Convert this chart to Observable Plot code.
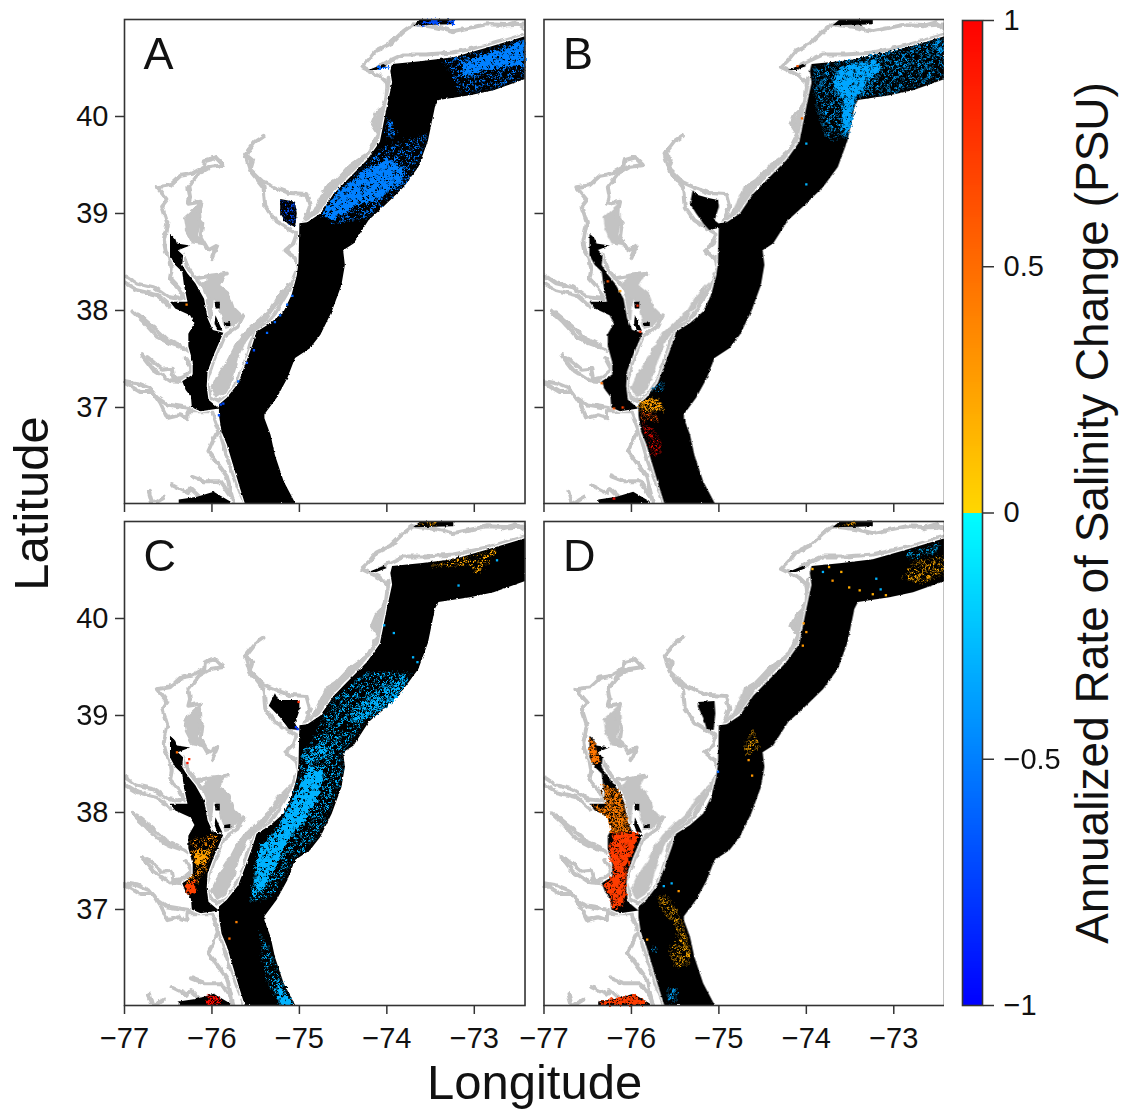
<!DOCTYPE html>
<html><head><meta charset="utf-8">
<script src="https://cdn.jsdelivr.net/npm/d3@7"></script>
<script src="https://cdn.jsdelivr.net/npm/@observablehq/plot@0.6"></script>
<style>
html,body{margin:0;padding:0;background:#fff}
#wrap{display:flex;width:1128px;height:1110px}
</style></head><body><div id="wrap"></div>
<script>
// ---- axis values ----
const lonTicks = [-77,-76,-75,-74,-73];
const latTicks = [37,38,39,40];
const barTicks = [-1,-0.5,0,0.5,1];
const panelNames = ["A","B","C","D"];

// ---- water body outlines, [longitude, latitude] ----
const shelf = [[-72.41,40.83],[-72.86,40.71],[-73.24,40.61],[-73.62,40.57],[-73.94,40.54],[-73.96,40.47],[-73.94,40.35],[-74.00,40.10],[-74.04,39.92],[-74.08,39.74],[-74.23,39.55],[-74.46,39.34],[-74.61,39.20],[-74.76,39.00],[-74.91,38.91],[-75.00,38.90],[-75.01,38.50],[-75.03,38.36],[-75.09,38.16],[-75.18,37.99],[-75.33,37.87],[-75.49,37.78],[-75.54,37.64],[-75.62,37.44],[-75.70,37.25],[-75.83,37.10],[-75.92,37.03],[-75.92,36.92],[-75.89,36.75],[-75.83,36.62],[-75.75,36.38],[-75.68,36.17],[-75.62,36.0],[-75.04,36.0],[-75.18,36.24],[-75.28,36.51],[-75.33,36.72],[-75.40,36.89],[-75.40,36.93],[-75.26,37.10],[-75.14,37.30],[-75.05,37.51],[-74.88,37.61],[-74.76,37.75],[-74.63,37.99],[-74.52,38.26],[-74.48,38.47],[-74.50,38.62],[-74.38,38.69],[-74.21,38.93],[-74.04,39.07],[-73.81,39.27],[-73.64,39.48],[-73.53,39.75],[-73.45,40.10],[-73.41,40.17],[-73.05,40.22],[-72.78,40.27],[-72.41,40.39]];
const chesapeake = [[-76.48,38.79],[-76.48,38.57],[-76.42,38.47],[-76.34,38.40],[-76.32,38.26],[-76.28,38.09],[-76.48,38.09],[-76.42,38.02],[-76.25,37.95],[-76.20,37.87],[-76.27,37.76],[-76.27,37.63],[-76.22,37.47],[-76.22,37.34],[-76.34,37.27],[-76.30,37.18],[-76.24,37.11],[-76.23,37.00],[-76.13,36.96],[-75.92,36.99],[-76.04,37.08],[-76.06,37.22],[-76.05,37.37],[-75.98,37.54],[-75.87,37.77],[-75.99,37.80],[-76.05,37.92],[-76.09,38.12],[-76.19,38.28],[-76.28,38.38],[-76.34,38.47],[-76.33,38.57],[-76.39,38.62],[-76.25,38.67],[-76.40,38.69],[-76.42,38.74]];
const choptank = [[-75.97,38.09],[-75.91,38.09],[-75.91,38.02],[-75.96,38.02]];
const nanticoke = [[-75.96,37.95],[-75.90,37.83],[-75.88,37.79],[-75.94,37.80],[-75.97,37.87]];
const pocomoke = [[-75.86,37.87],[-75.79,37.88],[-75.79,37.84],[-75.86,37.84]];
const albemarle = [[-76.38,36.0],[-76.38,36.05],[-76.17,36.08],[-75.98,36.13],[-75.79,36.03],[-75.79,36.0]];
const harbor = [[-74.21,40.48],[-74.04,40.54],[-74.00,40.52],[-74.12,40.48]];
const sound = [[-73.70,40.94],[-73.24,40.95],[-73.24,41.0],[-73.62,41.0]];
const openWaters = [shelf,chesapeake];
const smallWaters = [choptank,nanticoke,pocomoke,albemarle,harbor,sound];

const delawareBay = {
  A:[[-75.22,39.15],[-75.05,39.12],[-75.03,39.00],[-75.05,38.86],[-75.14,38.90],[-75.22,39.00]],
  B:[[-75.30,39.24],[-75.24,39.19],[-75.12,39.16],[-75.01,39.14],[-75.00,39.07],[-75.05,38.93],[-74.95,38.86],[-75.11,38.83],[-75.18,38.90],[-75.26,39.00],[-75.33,39.10]],
  C:[[-75.28,39.23],[-75.24,39.16],[-75.00,39.16],[-75.00,39.05],[-75.05,38.92],[-75.01,38.85],[-75.12,38.86],[-75.22,38.98],[-75.35,39.10]],
  D:[[-75.24,39.14],[-75.05,39.15],[-75.04,39.02],[-75.06,38.85],[-75.14,38.86],[-75.18,38.98],[-75.24,39.09]]
};

// ---- marsh and shoreline traces (grey) ----
const marshes = [
 [[-75.11,38.28],[-75.26,38.14],[-75.35,38.00],[-75.51,37.87],[-75.64,37.76],[-75.73,37.64],[-75.83,37.47],[-75.94,37.32],[-76.00,37.20],[-75.94,37.11],[-75.85,37.16],[-75.77,37.30],[-75.70,37.51],[-75.62,37.68],[-75.51,37.81],[-75.39,37.90],[-75.28,38.04],[-75.16,38.18]],
 [[-76.04,38.35],[-75.85,38.38],[-75.92,38.26],[-75.81,38.18],[-75.75,38.02],[-75.66,37.94],[-75.77,37.84],[-75.85,37.82],[-75.93,38.10],[-75.99,38.12],[-76.02,37.84],[-76.07,37.99],[-76.04,38.12],[-76.10,38.28]],
 [[-76.32,38.95],[-76.14,39.10],[-76.13,38.92],[-76.17,38.78],[-76.08,38.68],[-76.22,38.70],[-76.30,38.84]],
 [[-73.98,40.35],[-74.04,39.91],[-74.08,39.74],[-74.38,39.44],[-74.61,39.26],[-74.76,39.03],[-74.86,38.98],[-74.69,39.29],[-74.57,39.34],[-74.42,39.50],[-74.21,39.63],[-74.10,39.82],[-74.15,39.92],[-74.04,40.10]]
];
const coastlines = [
 [[-72.41,40.95],[-72.59,40.94],[-72.86,40.95],[-73.24,40.88],[-73.43,40.92],[-73.70,40.95],[-73.81,40.88],[-73.96,40.75],[-74.12,40.68],[-74.21,40.58],[-74.29,40.51],[-74.08,40.42],[-74.00,40.35],[-73.98,40.23],[-74.04,40.10],[-74.12,40.03],[-74.17,39.92],[-74.10,39.82],[-74.21,39.62],[-74.42,39.48],[-74.57,39.34],[-74.69,39.27],[-74.61,39.20],[-74.76,39.07],[-74.93,38.93]],
 [[-73.98,40.40],[-74.02,40.10],[-74.08,39.76],[-74.25,39.58],[-74.47,39.39],[-74.63,39.23],[-74.78,39.03],[-74.93,38.93]],
 [[-72.41,40.85],[-72.59,40.80],[-72.86,40.73],[-73.24,40.66],[-73.55,40.64],[-73.81,40.64],[-74.00,40.56],[-74.10,40.51]],
 [[-72.67,40.93],[-72.52,40.97],[-72.41,40.90]],
 [[-75.41,39.80],[-75.51,39.74],[-75.62,39.61],[-75.54,39.55],[-75.57,39.46],[-75.41,39.32],[-75.26,39.26],[-75.11,39.21],[-74.92,39.20],[-74.88,39.07],[-74.95,38.91]],
 [[-75.62,39.61],[-75.56,39.44],[-75.41,39.27],[-75.39,39.07],[-75.28,38.93],[-75.12,38.84],[-75.03,38.79],[-75.07,38.69],[-75.16,38.62],[-75.05,38.54]],
 [[-75.04,38.54],[-75.01,38.43],[-75.09,38.26],[-75.18,38.12],[-75.28,37.97],[-75.37,37.87],[-75.49,37.80],[-75.56,37.66],[-75.62,37.47],[-75.70,37.28],[-75.81,37.13],[-75.92,37.06],[-76.02,37.11],[-76.06,37.28],[-75.98,37.49],[-75.87,37.73],[-75.71,37.83],[-75.64,37.95]],
 [[-76.33,38.57],[-76.27,38.43],[-76.19,38.33],[-76.09,38.23],[-76.04,38.12],[-76.08,37.99],[-76.02,37.83]],
 [[-76.19,38.33],[-76.00,38.36],[-75.83,38.38]],
 [[-75.96,39.58],[-75.87,39.50],[-76.02,39.48],[-76.15,39.41],[-76.27,39.27],[-76.25,39.17],[-76.27,39.10],[-76.13,39.12],[-76.17,38.96],[-76.11,38.90],[-76.13,38.76],[-76.04,38.62],[-75.94,38.67],[-76.00,38.54]],
 [[-75.96,39.58],[-76.08,39.55],[-76.09,39.48],[-76.23,39.41],[-76.36,39.39],[-76.48,39.29],[-76.63,39.27],[-76.51,39.14],[-76.57,39.07],[-76.51,38.90],[-76.55,38.72],[-76.53,38.62],[-76.48,38.54],[-76.46,38.43],[-76.48,38.33],[-76.38,38.23],[-76.30,38.12]],
 [[-76.99,38.36],[-76.86,38.28],[-76.67,38.24],[-76.51,38.14],[-76.36,38.12],[-76.30,38.16]],
 [[-76.99,38.28],[-76.86,38.21],[-76.63,38.16],[-76.48,38.04]],
 [[-76.91,37.99],[-76.78,37.88],[-76.63,37.73],[-76.48,37.66],[-76.32,37.61],[-76.27,37.58]],
 [[-76.86,37.97],[-76.67,37.83],[-76.53,37.71],[-76.36,37.64]],
 [[-76.80,37.54],[-76.67,37.39],[-76.48,37.28],[-76.34,37.27]],
 [[-76.74,37.52],[-76.57,37.39],[-76.46,37.40],[-76.44,37.30],[-76.32,37.32],[-76.23,37.39],[-76.30,37.51]],
 [[-76.99,37.27],[-76.86,37.25],[-76.72,37.20],[-76.63,37.10],[-76.51,37.03],[-76.23,36.99]],
 [[-76.99,37.25],[-76.82,37.16],[-76.68,37.16],[-76.59,37.04],[-76.51,36.89],[-76.38,36.92],[-76.28,36.89],[-76.28,36.96],[-76.00,36.96]],
 [[-76.00,36.96],[-75.90,36.72],[-75.81,36.44],[-75.71,36.20],[-75.62,36.00]],
 [[-75.94,36.75],[-76.04,36.55],[-75.94,36.43],[-75.83,36.29],[-75.75,36.00]],
 [[-76.23,36.29],[-76.09,36.24],[-75.90,36.24],[-75.77,36.07]],
 [[-76.46,36.20],[-76.28,36.12],[-76.25,36.17],[-76.13,36.07]],
 [[-76.72,36.13],[-76.68,36.00],[-76.55,36.07]]
];

// ---- salinity trend patches: [panel, rate (PSU/yr), speckle cover 0-3, outline] ----
const patchesA = [
 ["A",-0.52,3,[[-74.04,39.68],[-73.53,39.82],[-73.66,39.48],[-73.83,39.27],[-74.06,39.09],[-74.23,38.95],[-74.61,38.90],[-74.74,38.98],[-74.57,39.22],[-74.31,39.44]]],
 ["A",-0.52,2,[[-74.02,39.89],[-73.97,39.99],[-73.89,39.82],[-73.97,39.77]]],
 ["A",-0.5,1,[[-74.74,38.98],[-74.57,39.22],[-74.31,39.41],[-74.00,39.56],[-73.81,39.48],[-73.81,39.34],[-74.04,39.17],[-74.38,39.07],[-74.61,38.93]]],
 ["A",-0.52,3,[[-73.37,40.56],[-72.41,40.80],[-72.41,40.41],[-72.78,40.29],[-73.17,40.24],[-73.24,40.44]]],
 ["A",-0.5,1,[[-73.13,40.56],[-72.71,40.69],[-72.41,40.78],[-72.41,40.54],[-72.86,40.49],[-73.13,40.40]]],
 ["A",-0.6,0,[[-74.10,40.52],[-73.98,40.52],[-73.98,40.49],[-74.10,40.49]]],
 ["A",-0.7,0,[[-73.66,40.94],[-73.55,40.99],[-73.40,40.99],[-73.40,40.96]]],
 ["A",-0.7,0,[[-73.30,40.99],[-73.22,40.99],[-73.22,40.95],[-73.30,40.96]]],
 ["A",-0.7,3,[[-75.21,39.14],[-75.06,39.11],[-75.04,39.00],[-75.06,38.87],[-75.14,38.91],[-75.21,39.00]]]
];
const patchesB = [
 ["B",-0.36,3,[[-73.92,40.50],[-72.41,40.80],[-72.41,40.41],[-73.05,40.24],[-73.43,40.19],[-73.53,39.78],[-73.77,39.77],[-73.89,40.13],[-73.91,40.37]]],
 ["B",-0.36,2,[[-72.55,40.78],[-72.41,40.81],[-72.41,40.64],[-72.55,40.70]]],
 ["B",-0.35,1,[[-73.62,40.50],[-73.24,40.59],[-73.13,40.51],[-73.28,40.37],[-73.45,40.17],[-73.49,39.92],[-73.55,39.80],[-73.60,39.92],[-73.58,40.17],[-73.70,40.34]]],
 ["B",0.25,2,[[-75.90,37.06],[-75.70,37.10],[-75.63,36.96],[-75.79,36.96],[-75.90,36.97]]],
 ["B",0.6,3,[[-75.90,36.97],[-75.71,36.92],[-75.71,36.85],[-75.87,36.85]]],
 ["B",0.95,3,[[-75.87,36.85],[-75.75,36.77],[-75.66,36.65],[-75.70,36.51],[-75.76,36.50],[-75.80,36.65],[-75.85,36.77]]],
 ["B",-0.35,3,[[-75.75,37.20],[-75.62,37.27],[-75.66,37.16],[-75.73,37.16]]]
];
const patchesC = [
 ["C",-0.3,3,[[-74.98,38.59],[-74.86,38.74],[-74.61,39.17],[-74.23,39.44],[-73.72,39.44],[-73.91,39.16],[-74.23,38.97],[-74.52,38.59]]],
 ["C",-0.3,3,[[-75.56,37.08],[-75.50,37.56],[-75.22,37.88],[-74.98,38.39],[-74.98,38.59],[-74.52,38.59],[-74.52,38.35],[-74.65,38.04],[-74.78,37.77],[-75.05,37.53],[-75.16,37.36],[-75.33,37.12]]],
 ["C",-0.3,2,[[-74.31,39.12],[-74.08,39.29],[-73.79,39.41],[-73.75,39.36],[-73.91,39.16],[-74.15,38.99],[-74.38,38.94],[-74.53,38.95]]],
 ["C",-0.3,1,[[-75.52,37.22],[-75.45,37.66],[-75.28,37.78],[-75.03,38.21],[-74.88,38.49],[-74.72,38.42],[-74.80,38.11],[-74.91,37.97],[-75.14,37.70],[-75.26,37.46],[-75.41,37.22],[-75.52,37.12]]],
 ["C",-0.3,2,[[-74.98,38.59],[-74.74,38.74],[-74.62,38.60],[-74.88,38.49]]],
 ["C",-0.3,3,[[-75.45,36.77],[-75.32,36.53],[-75.20,36.26],[-75.07,36.02],[-75.22,36.02],[-75.37,36.26],[-75.43,36.53]]],
 ["C",-0.3,1,[[-75.26,36.26],[-75.07,36.02],[-75.22,36.02]]],
 ["C",0.22,3,[[-73.09,40.63],[-72.75,40.71],[-72.82,40.60],[-72.97,40.46],[-73.03,40.54],[-73.51,40.55],[-73.24,40.60]]],
 ["C",0.22,2,[[-73.66,40.97],[-73.43,41.0],[-73.43,40.96]]],
 ["C",0.35,3,[[-76.25,37.73],[-75.92,37.77],[-76.02,37.53],[-76.09,37.39],[-76.21,37.22],[-76.32,37.24],[-76.17,37.42],[-76.23,37.56]]],
 ["C",0.25,1,[[-76.21,37.60],[-76.02,37.61],[-76.09,37.48],[-76.19,37.46]]],
 ["C",0.7,1,[[-76.32,37.25],[-76.19,37.31],[-76.19,37.17],[-76.27,37.15]]],
 ["C",0.95,2,[[-76.05,36.12],[-75.90,36.10],[-75.90,36.02],[-76.05,36.02]]]
];
const patchesD = [
 ["D",0.42,2,[[-76.34,38.30],[-76.13,38.21],[-76.08,38.04],[-76.02,37.80],[-76.23,37.79],[-76.27,37.94],[-76.46,38.08],[-76.28,38.04],[-76.32,38.21]]],
 ["D",0.72,1,[[-76.26,37.60],[-76.19,37.79],[-75.92,37.79],[-75.96,37.66],[-76.06,37.42],[-76.07,37.15],[-76.10,37.05],[-76.19,37.00],[-76.23,37.03],[-76.24,37.15],[-76.32,37.25],[-76.25,37.30],[-76.20,37.42],[-76.25,37.56]]],
 ["D",0.45,1,[[-76.47,38.77],[-76.42,38.72],[-76.36,38.52],[-76.44,38.50],[-76.47,38.56]]],
 ["D",0.72,1,[[-76.36,36.0],[-76.36,36.05],[-75.98,36.12],[-75.82,36.03],[-75.82,36.0]]],
 ["D",0.2,3,[[-75.71,37.13],[-75.58,37.13],[-75.43,36.89],[-75.39,36.77],[-75.33,36.57],[-75.35,36.43],[-75.49,36.40],[-75.58,36.60],[-75.45,36.67],[-75.49,36.84],[-75.64,36.98]]],
 ["D",-0.35,3,[[-75.77,36.61],[-75.71,36.62],[-75.71,36.55],[-75.77,36.55]]],
 ["D",-0.35,3,[[-75.58,36.19],[-75.49,36.19],[-75.49,36.05],[-75.58,36.05]]],
 ["D",0.2,3,[[-72.75,40.59],[-72.41,40.64],[-72.41,40.46],[-72.71,40.36],[-72.92,40.41]]],
 ["D",-0.3,3,[[-72.86,40.66],[-72.48,40.78],[-72.52,40.68],[-72.82,40.61]]],
 ["D",0.2,3,[[-74.70,38.71],[-74.61,38.85],[-74.54,38.68],[-74.67,38.59]]],
 ["D",0.22,2,[[-73.66,40.95],[-73.45,41.0],[-73.45,40.97]]]
];

// ---- isolated cells: [panel, rate, longitude, latitude] ----
const cells = [
 ["A",-0.6,-75.08,38.15],["A",-0.6,-75.14,38.06],["A",-0.6,-75.22,37.95],["A",-0.6,-75.28,37.88],["A",-0.6,-75.37,37.77],["A",-0.7,-75.52,37.59],["A",-0.7,-75.60,37.46],["A",-0.6,-75.70,37.27],["A",-0.7,-75.90,37.03],["A",-0.7,-75.87,37.04],["A",-0.7,-75.92,36.92],["A",0.4,-76.29,38.06],
 ["B",0.6,-76.27,38.30],["B",0.3,-76.13,38.20],["B",0.8,-75.93,38.05],["B",0.8,-75.90,37.78],["B",0.5,-76.34,37.25],["B",0.6,-76.20,36.99],["B",0.7,-76.10,37.00],["B",0.95,-76.20,36.06],["B",0.5,-74.05,39.98],["B",0.6,-74.10,40.52],["B",-0.3,-74.00,39.72],["B",-0.3,-74.00,39.30],
 ["C",-0.3,-74.03,39.93],["C",-0.3,-73.92,39.85],["C",-0.3,-73.70,39.60],["C",-0.3,-73.65,39.55],["C",0.8,-76.26,38.55],["C",0.9,-76.28,38.51],["C",0.5,-76.40,38.62],["C",0.4,-75.72,36.87],["C",0.5,-75.80,36.70],["C",0.8,-75.01,39.14],["C",-0.8,-75.04,38.88],["C",-0.8,-75.02,38.86],["C",-0.3,-73.18,40.34],["C",-0.3,-72.74,40.60],
 ["D",0.2,-73.93,40.51],["D",0.2,-73.74,40.53],["D",0.2,-73.60,40.48],["D",0.2,-73.51,40.32],["D",0.2,-73.39,40.29],["D",0.2,-73.24,40.25],["D",0.2,-73.09,40.24],["D",0.3,-74.03,39.95],["D",0.3,-74.00,39.86],["D",0.3,-74.04,39.72],["D",0.3,-73.70,40.39],["D",-0.3,-73.20,40.41],["D",-0.3,-73.15,40.30],["D",-0.3,-73.81,40.48],["D",-0.6,-75.01,38.42],["D",0.3,-74.66,38.54],["D",0.3,-74.62,38.38],["D",-0.3,-75.63,37.24],["D",-0.3,-75.54,37.27],["D",0.3,-75.46,37.19],["D",0.3,-75.82,36.69]
];

// ---- speckle tiles of unresolved black cells ----
const tileRows = {
 1:["..#.........","......#....#",".#........#.","....#.......","..........#.","#.....#.....","...#........",".........#..",".#....#.....","....#.....#.","#...........","......#.#..."],
 2:["#.#..##.#..#",".##.#...##..","#...##.#..#.","..#....##.##","##.#.#...#..",".#..##.#..#.","#..#..##.##.",".##.#.....##","#...#.##.#..","..##...#..##","#.#.##..#...",".#...#.##.#."],
 3:["###.###.####","#.####.##.##","###.#.####.#",".####.##.###","##.###.###.#","####.####.##","#.###.##.###","###.####.#.#",".###.####.##","##.##.#.####","####.###.##.","#.#####.###."]
};

// ---- tables for the library ----
const col = p => panelNames.indexOf(p) % 2;
const row = p => panelNames.indexOf(p) < 2 ? 0 : 1;
const panelTable = panelNames.map(p => ({name:p, col:col(p), row:row(p)}));
const pathRows = (list) => list.flatMap((pts,i) => pts.map(([lon,lat]) => ({id:i, lon, lat})));
const openRows = pathRows(openWaters);
const smallRows = pathRows(smallWaters);
const coastRows = pathRows(coastlines);
const marshRows = pathRows(marshes);
const bayRows = panelNames.flatMap(p => delawareBay[p].map(([lon,lat]) => ({lon,lat,id:p,col:col(p),row:row(p)})));
const patchRows = [...patchesA,...patchesB,...patchesC,...patchesD].flatMap(([p,value,cover,pts],i) =>
  pts.map(([lon,lat]) => ({id:i, col:col(p), row:row(p), value, cover, lon, lat})));
const cellRows = cells.map(([p,value,lon,lat]) => ({col:col(p), row:row(p), value, lon, lat}));
const signed = d => String(d).replace("-","\u2212");

const colorScale = {type:"linear", domain:[-1,-1e-6,0,1], range:["#0000ff","#00ffff","#ffd700","#ff0000"], clamp:true};
const font = "Liberation Sans";
const ink = "#333";
const clipLine = {x:"lon", y:"lat", z:"id", clip:true};
const facet = {fx:"col", fy:"row"};

const patchLayers = [3,2,1,0].flatMap(c => {
  const rows = patchRows.filter(d => d.cover === c);
  const layer = [Plot.line(rows, {...clipLine, ...facet, fill:"value", stroke:"none", ariaDescription:"patch"})];
  if (c > 0) layer.push(Plot.line(rows, {...clipLine, ...facet, fill:`url(#speck${c})`, stroke:"none", ariaDescription:"patch"}));
  return layer;
});

const chart = Plot.plot({
  width:944, height:1110,
  marginLeft:124, marginRight:0, marginTop:19, marginBottom:105,
  style:{fontFamily:font, background:"#fff", color:"#000"},
  x:{domain:[-77,-72.42]},
  y:{domain:[36.01,41]},
  fx:{domain:[0,1], axis:null, paddingInner:19/420, paddingOuter:0, round:false},
  fy:{domain:[0,1], axis:null, paddingInner:18/502, paddingOuter:0, round:false},
  color:colorScale,
  marks:[
    Plot.line(marshRows, {...clipLine, fill:"#c3c3c3", stroke:"#c3c3c3", strokeWidth:2, ariaDescription:"coast"}),
    Plot.line(coastRows, {...clipLine, stroke:"#c3c3c3", strokeWidth:4, strokeLinejoin:"round", ariaDescription:"coast"}),
    Plot.line(openRows, {...clipLine, fill:"#000", stroke:"#fff", strokeWidth:2.5, ariaDescription:"water"}),
    Plot.line(openRows, {...clipLine, fill:"#000", stroke:"none", ariaDescription:"water"}),
    Plot.line(smallRows, {...clipLine, fill:"#000", stroke:"none", ariaDescription:"water"}),
    Plot.line(bayRows, {...clipLine, ...facet, fill:"#000", stroke:"none", ariaDescription:"water"}),
    ...patchLayers,
    Plot.dot(cellRows, {x:"lon", y:"lat", ...facet, fill:"value", r:1.3, symbol:"square", clip:true}),
    Plot.frame({stroke:ink, strokeWidth:1.6}),
    Plot.axisX({ticks:lonTicks, anchor:"bottom", facetAnchor:null, fill:"none", stroke:ink, strokeWidth:1.5, tickSize:9, label:null}),
    Plot.axisY({ticks:latTicks, anchor:"left", facetAnchor:null, fill:"none", stroke:ink, strokeWidth:1.5, tickSize:9, label:null}),
    Plot.axisX({ticks:lonTicks, anchor:"bottom", tickSize:0, tickPadding:22, fontSize:29, fill:"#111", label:null, tickFormat:signed}),
    Plot.axisY({ticks:latTicks, anchor:"left", tickSize:0, tickPadding:16, fontSize:29, fill:"#111", label:null, tickFormat:signed}),
    Plot.text(panelTable, {text:"name", ...facet, frameAnchor:"top-left", dx:19, dy:18, lineAnchor:"top", fontSize:45, fill:"#111"}),
    Plot.text(["Longitude"], {text:d=>d, facet:"super", frameAnchor:"bottom", dy:78, lineAnchor:"middle", fontSize:49, fill:"#111"}),
    Plot.text(["Latitude"], {text:d=>d, facet:"super", frameAnchor:"left", textAnchor:"middle", dx:-92, dy:-9, rotate:-90, lineAnchor:"middle", fontSize:49, fill:"#111"})
  ]
});

// speckle patterns and rough, slightly soft edges of the gridded cells
const defs = d3.select(chart).insert("defs", ":first-child");
Object.entries(tileRows).forEach(([k,rows]) => {
  const pat = defs.append("pattern").attr("id", `speck${k}`).attr("patternUnits","userSpaceOnUse").attr("width",24).attr("height",24).attr("patternTransform","rotate(23)");
  rows.forEach((r,j) => [...r].forEach((ch,i) => {
    if (ch === "#") pat.append("rect").attr("x",i*2).attr("y",j*2).attr("width",2).attr("height",2).attr("fill","#000");
  }));
});
[["coast",0.14,4.5,0.45],["water",0.3,2.5,0.4],["patch",0.35,9,0.4]].forEach(([name,freq,scale,blur]) => {
  const id = `rough-${name}`;
  const f = defs.append("filter").attr("id",id).attr("filterUnits","userSpaceOnUse").attr("x",-50).attr("y",-50).attr("width",1100).attr("height",1250).attr("color-interpolation-filters","sRGB");
  f.append("feTurbulence").attr("type","fractalNoise").attr("baseFrequency",freq).attr("numOctaves",2).attr("seed",4).attr("result","n");
  f.append("feDisplacementMap").attr("in","SourceGraphic").attr("in2","n").attr("scale",scale).attr("xChannelSelector","R").attr("yChannelSelector","G").attr("result","d");
  f.append("feGaussianBlur").attr("in","d").attr("stdDeviation",blur);
  d3.select(chart).selectAll(`g[aria-description="${name}"]`).attr("filter",`url(#${id})`);
});

const barSteps = d3.range(-1,1,0.005);
const bar = Plot.plot({
  width:184, height:1110,
  marginLeft:18, marginRight:146, marginTop:20, marginBottom:105,
  style:{fontFamily:font, background:"#fff", color:"#000"},
  x:{domain:[0,1], axis:null},
  y:{domain:[-1,1]},
  color:colorScale,
  marks:[
    Plot.rect(barSteps, {x1:0, x2:1, y1:d=>d, y2:d=>Math.min(1,d+0.0075), fill:d=>d+0.0025, shapeRendering:"crispEdges"}),
    Plot.frame({stroke:ink, strokeWidth:1.6}),
    Plot.axisY({ticks:barTicks, anchor:"right", tickSize:11, tickPadding:10, fontSize:29, stroke:ink, strokeWidth:1.5, fill:"#111", label:null, tickFormat:signed}),
    Plot.text(["Annualized Rate of Salinity Change (PSU)"], {text:d=>d, frameAnchor:"right", textAnchor:"middle", dx:111, rotate:-90, lineAnchor:"middle", fontSize:46, fill:"#111"})
  ]
});

document.getElementById("wrap").append(chart, bar);
</script></body></html>
